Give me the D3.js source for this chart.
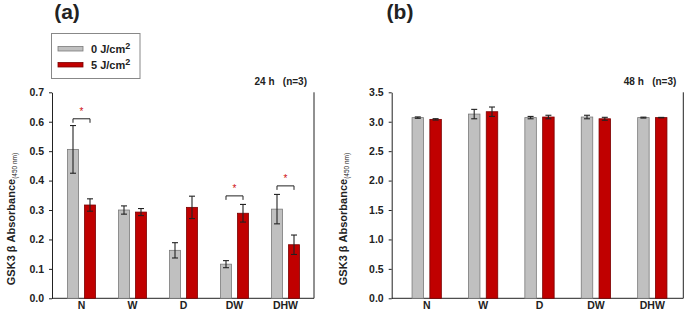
<!DOCTYPE html>
<html>
<head>
<meta charset="utf-8">
<script src="https://cdn.jsdelivr.net/npm/d3@7"></script>
<style>
  body { margin: 0; background: #fff; }
  svg { display: block; font-family: Arial, "Liberation Sans", sans-serif; }
</style>
</head>
<body>
<svg id="chart" width="685" height="313"></svg>
<script>
// data
const categories = ["N", "W", "D", "DW", "DHW"];
const doses = ["0 J/cm", "5 J/cm"];

const dose0_24h = [0.506, 0.300, 0.163, 0.116, 0.303];
const dose0_24h_err = [0.081, 0.014, 0.026, 0.012, 0.050];
const dose5_24h = [0.317, 0.293, 0.309, 0.289, 0.182];
const dose5_24h_err = [0.021, 0.012, 0.038, 0.030, 0.033];

const dose0_48h = [3.07, 3.13, 3.07, 3.08, 3.07];
const dose0_48h_err = [0.012, 0.08, 0.02, 0.03, 0.008];
const dose5_48h = [3.04, 3.17, 3.08, 3.05, 3.07];
const dose5_48h_err = [0.012, 0.08, 0.03, 0.025, 0.004];

const ticks24 = [0, 0.1, 0.2, 0.3, 0.4, 0.5, 0.6, 0.7];
const ticks48 = [0, 0.5, 1.0, 1.5, 2.0, 2.5, 3.0, 3.5];

// significance brackets (a): category and bracket height
const sigCats24 = ["N", "DW", "DHW"];
const sigLevel24 = [0.61, 0.348, 0.382];

const svg = d3.select("#chart");
const ink = "#222";
const fills = ["#c0c0c0", "#c00000"];
const strokes = ["#7a7a7a", "#7a0000"];

function drawPanel(p) {
  const y = d3.scaleLinear()
    .domain([0, d3.max(p.ticks)])
    .range([298.3, 92.3]);

  const x = d3.scaleBand()
    .domain(categories)
    .range(p.xRange)
    .padding(0);

  const xSub = d3.scaleBand()
    .domain(doses)
    .range([x.bandwidth() / 2 - p.pair / 2, x.bandwidth() / 2 + p.pair / 2])
    .paddingInner(p.gap)
    .paddingOuter(0);

  const g = svg.append("g");

  // left axis
  const ax = g.append("g")
    .attr("transform", `translate(${p.axisX},0)`)
    .call(d3.axisLeft(y).tickValues(p.ticks).tickFormat(d3.format(".1f")).tickSize(3).tickSizeOuter(0).tickPadding(5));
  ax.select(".domain").attr("stroke", ink);
  ax.selectAll(".tick line").attr("stroke", ink);
  ax.selectAll(".tick text")
    .attr("fill", ink)
    .style("font-size", "10.5px")
    .style("font-weight", "bold");

  // bottom line and right line
  g.append("line")
    .attr("x1", p.axisX).attr("x2", p.rightX)
    .attr("y1", y(0)).attr("y2", y(0))
    .attr("stroke", ink);
  g.append("line")
    .attr("x1", p.rightX).attr("x2", p.rightX)
    .attr("y1", y(d3.max(p.ticks))).attr("y2", y(0))
    .attr("stroke", ink);

  // category labels
  g.selectAll(".cat")
    .data(categories)
    .join("text")
      .attr("x", d => x(d) + x.bandwidth() / 2)
      .attr("y", 309)
      .attr("text-anchor", "middle")
      .attr("fill", ink)
      .style("font-size", "10.5px")
      .style("font-weight", "bold")
      .text(d => d);

  const rows = categories.map((c, i) => [
    { cat: c, key: doses[0], k: 0, v: p.s0[i], e: p.e0[i] },
    { cat: c, key: doses[1], k: 1, v: p.s1[i], e: p.e1[i] }
  ]).flat();

  const bx = d => x(d.cat) + xSub(d.key);
  const cx = d => bx(d) + xSub.bandwidth() / 2;

  g.selectAll(".bar")
    .data(rows)
    .join("rect")
      .attr("x", bx)
      .attr("y", d => y(d.v))
      .attr("width", xSub.bandwidth())
      .attr("height", d => y(0) - y(d.v))
      .attr("fill", d => fills[d.k])
      .attr("stroke", d => strokes[d.k])
      .attr("stroke-width", 0.8);

  // error bars
  const eb = g.selectAll(".err")
    .data(rows)
    .join("g")
      .attr("stroke", ink)
      .attr("stroke-width", 1.1);
  eb.append("line")
    .attr("x1", cx).attr("x2", cx)
    .attr("y1", d => y(d.v + d.e)).attr("y2", d => y(d.v - d.e));
  eb.append("line")
    .attr("x1", d => cx(d) - 3).attr("x2", d => cx(d) + 3)
    .attr("y1", d => y(d.v + d.e)).attr("y2", d => y(d.v + d.e));
  eb.append("line")
    .attr("x1", d => cx(d) - 3).attr("x2", d => cx(d) + 3)
    .attr("y1", d => y(d.v - d.e)).attr("y2", d => y(d.v - d.e));

  // significance
  if (p.sigCats) {
    p.sigCats.forEach((c, i) => {
      const x0 = x(c) + xSub(doses[0]) + xSub.bandwidth() / 2;
      const x1 = x(c) + xSub(doses[1]) + xSub.bandwidth() / 2;
      const yy = y(p.sigLevel[i]);
      g.append("path")
        .attr("d", `M${x0},${yy + 4}V${yy}H${x1}V${yy + 4}`)
        .attr("fill", "none")
        .attr("stroke", ink)
        .attr("stroke-width", 1);
      g.append("text")
        .attr("x", (x0 + x1) / 2)
        .attr("y", yy - 4)
        .attr("text-anchor", "middle")
        .attr("fill", "#d01010")
        .style("font-size", "10px")
        .text("*");
    });
  }

  // y axis title
  const t = g.append("text")
    .attr("transform", `translate(${p.titleX},219) rotate(-90)`)
    .attr("text-anchor", "middle")
    .attr("fill", ink)
    .style("font-size", "11px")
    .style("font-weight", "bold");
  t.append("tspan").text("GSK3 \u03b2 Absorbance");
  t.append("tspan")
    .attr("dy", 2)
    .style("font-size", "6.5px")
    .style("font-weight", "normal")
    .text("(450 nm)");

  // panel letter
  g.append("text")
    .attr("x", p.letterX)
    .attr("y", 19)
    .attr("text-anchor", "middle")
    .attr("fill", ink)
    .style("font-size", "21px")
    .style("font-weight", "bold")
    .text(p.letter);

  // time note
  g.append("text")
    .attr("x", p.rightX - 7)
    .attr("y", 85)
    .attr("text-anchor", "end")
    .attr("fill", ink)
    .style("font-size", "10px")
    .style("font-weight", "bold")
    .style("white-space", "pre")
    .text(p.note);
}

drawPanel({
  ticks: ticks24, xRange: [56, 311], pair: 28, gap: 0.353,
  axisX: 52, rightX: 314, titleX: 15, letterX: 67, letter: "(a)",
  note: "24 h   (n=3)",
  s0: dose0_24h, e0: dose0_24h_err, s1: dose5_24h, e1: dose5_24h_err,
  sigCats: sigCats24, sigLevel: sigLevel24
});

drawPanel({
  ticks: ticks48, xRange: [398.5, 680.5], pair: 29.3, gap: 0.354,
  axisX: 391.7, rightX: 683.3, titleX: 347, letterX: 400, letter: "(b)",
  note: "48 h   (n=3)",
  s0: dose0_48h, e0: dose0_48h_err, s1: dose5_48h, e1: dose5_48h_err
});

// legend
const legend = svg.append("g");
legend.append("rect")
  .attr("x", 51.5).attr("y", 33.5)
  .attr("width", 88.5).attr("height", 45)
  .attr("fill", "#fff")
  .attr("stroke", "#888");
doses.forEach((d, i) => {
  const row = legend.append("g").attr("transform", `translate(0,${i * 16})`);
  row.append("rect")
    .attr("x", 58).attr("y", 46.5)
    .attr("width", 25).attr("height", 4.5)
    .attr("fill", fills[i])
    .attr("stroke", strokes[i])
    .attr("stroke-width", 0.8);
  const tx = row.append("text")
    .attr("x", 91).attr("y", 53)
    .attr("fill", ink)
    .style("font-size", "11px")
    .style("font-weight", "bold");
  tx.append("tspan").text(d);
  tx.append("tspan")
    .attr("dy", -4)
    .style("font-size", "9px")
    .text("2");
});
</script>
</body>
</html>
